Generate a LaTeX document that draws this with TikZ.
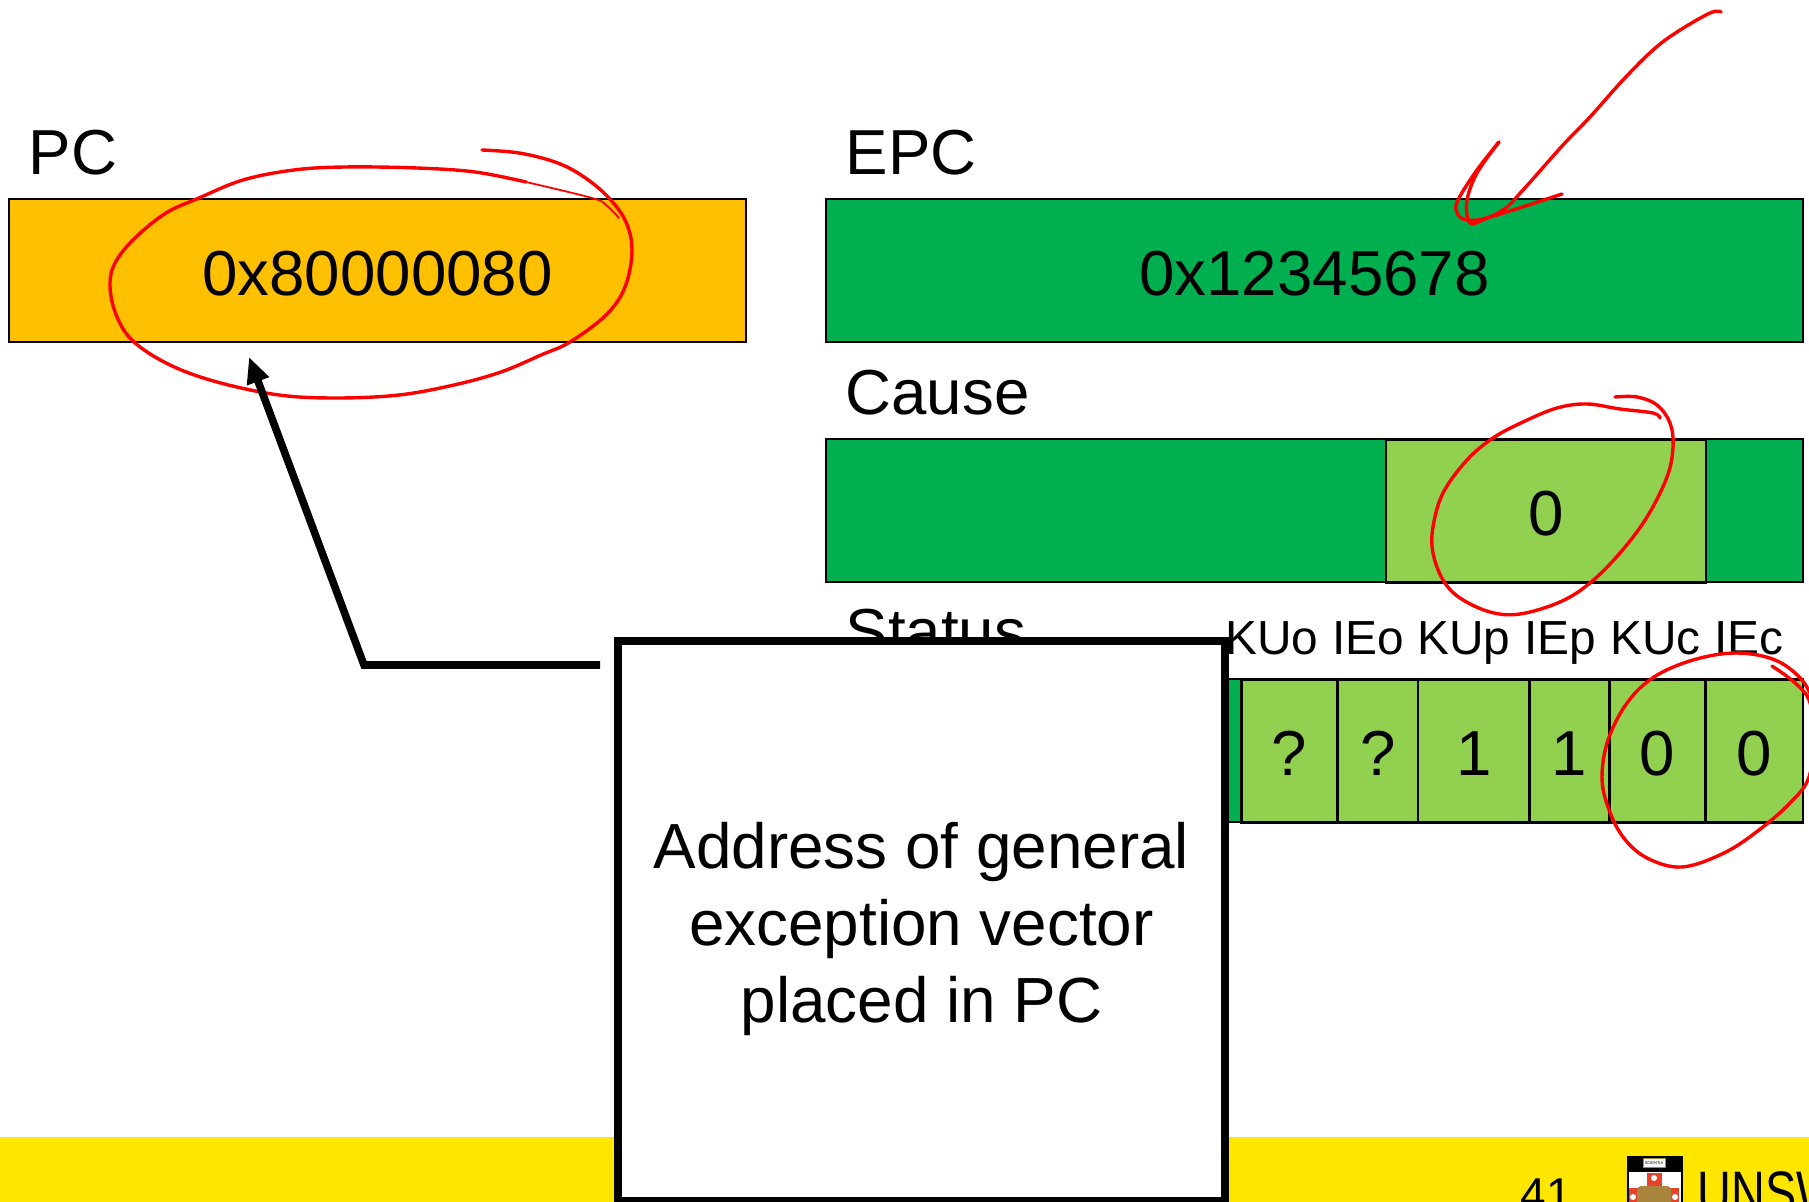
\documentclass[tikz,border=0pt]{standalone}
\usepackage{fontspec}
\setmainfont{Liberation Sans}
\usetikzlibrary{arrows.meta,positioning}
\definecolor{regorange}{HTML}{FFC000}
\definecolor{reggreen}{HTML}{00B050}
\definecolor{fieldgreen}{HTML}{92D050}
\definecolor{bandyellow}{HTML}{FFE600}
\definecolor{crestred}{HTML}{E8432A}
\definecolor{crestgold}{HTML}{A8843C}

\begin{document}
\begin{tikzpicture}[x=0.5pt,y=-0.5pt,node distance=120pt,semithick]
  \tikzstyle{reg}=[draw=black,line width=1.4pt,fill=reggreen,minimum height=71.5pt,
                   inner sep=0pt,text height=24.6pt,text depth=0pt,font=\fontsize{31.8}{38}\selectfont]
  \tikzstyle{title}=[anchor=base west,inner sep=0pt,font=\fontsize{31.8}{38}\selectfont]
  \tikzstyle{field}=[reg,fill=fieldgreen,anchor=center]
  \tikzstyle{fieldname}=[anchor=base,inner sep=0pt,font=\fontsize{23.9}{28}\selectfont]
  \tikzstyle{scribble}=[draw=red,line width=1.7pt,line cap=round,line join=round]
  \tikzstyle{callout}=[draw=black,line width=4.4pt,fill=white,minimum width=303.5pt,
                       minimum height=280pt,inner sep=0pt]
  \tikzstyle{callouttext}=[align=center,inner sep=0pt,font=\fontsize{31.9}{38.4}\selectfont]
  \tikzstyle{dot}=[fill=white,circle,minimum size=3pt,inner sep=0pt]

  \useasboundingbox (0,0) rectangle (1809,1202);
  \clip (0,0) rectangle (1809,1202);

  % footer
  \node[fill=bandyellow,minimum width=904.5pt,minimum height=32.5pt,inner sep=0pt] (Band) at (904.5,1169.5) {};
  \node[anchor=base,inner sep=0pt,font=\fontsize{23}{27}\selectfont] (Page) at (1546,1210) {41};
  \node[draw=black,fill=white,line width=1pt,anchor=north west,minimum width=27pt,minimum height=40pt,inner sep=0pt] (Crest) at (1627,1156) {};
  \node[fill=black,anchor=north west,minimum width=27pt,minimum height=7.5pt,inner sep=0pt] (CrestTop) at (1627,1156) {};
  \node[fill=white,draw=crestgold,line width=0.4pt,minimum width=11pt,minimum height=4.5pt,inner sep=0pt,font=\fontsize{2}{2}\selectfont] (Book) at (1654,1163) {SCIENTIA};
  \node[fill=crestred,anchor=north,minimum width=7.5pt,minimum height=20pt,inner sep=0pt] (CrestBar) at (1654,1172) {};
  \node[fill=crestred,anchor=north,minimum width=25pt,minimum height=10pt,inner sep=0pt] (CrestArm) at (1654,1187) {};
  \node[fill=crestgold,rounded corners=2pt,minimum width=17pt,minimum height=10pt,inner sep=0pt] (Lion) at (1654,1196) {};
  \node[dot] (DotTop) at (1654,1178) {};
  \node[dot] (DotLeft) at (1633,1197) {};
  \node[dot] (DotRight) at (1675,1197) {};
  \node[anchor=base west,inner sep=0pt,xscale=0.78,font=\fontsize{30}{36}\selectfont] (Unsw) at (1697,1213) {UNSW};

  % registers
  \node[reg,fill=regorange,minimum width=368.5pt] (PC) at (377.5,270.5) {0x80000080};
  \node[reg,minimum width=488.5pt] (EPC) at (1314.5,270.5) {0x12345678};
  \node[reg,minimum width=488.5pt] (Cause) [below of=EPC] {};
  \node[reg,minimum width=488.5pt] (Status) [below of=Cause] {};
  \node[field,minimum width=160pt] (CauseCode) at (1546,511) {0};

  \node[title] (PClabel) at (28,175) {PC};
  \node[title] (EPClabel) at (845,175) {EPC};
  \node[title] (Causelabel) at (845,415) {Cause};
  \node[title] (Statuslabel) at (845,654) {Status};

  % status bits
  \foreach \name/\val/\xa/\wid/\lab/\xb in {KUo/?/1289.5/48/KUo/1272,IEo/?/1378/40/IEo/1368.5,
      KUp/1/1474/56/KUp/1464,IEp/1/1569.5/40/IEp/1560.5,KUc/0/1657.5/48/KUc/1655.5,IEc/0/1754.5/48.5/IEc/1749} {
    \node[field,minimum width=\wid pt] (\name) at (\xa,751) {\val};
    \node[fieldname] (\name label) at (\xb,655) {\lab};
  }

  % pen marks
  \draw[scribble] plot[smooth,tension=0.6] coordinates {(482,150) (519,153) (555,162) (581,175) (606,195)
      (625,220) (632,250) (625,287) (606,315) (570,342) (541,355) (501,372) (454,385) (399,395) (337,398)
      (279,395) (217,382) (170,365) (134,342) (117,317) (110,287) (115,263) (135,238) (166,213) (199,198)
      (243,180) (294,170) (345,167) (417,168) (475,172) (526,182)};
  \draw[scribble,line width=0.9pt] plot[smooth,tension=0.6] coordinates {(526,182) (592,198) (606,205) (619,218)};
  \draw[scribble] plot[smooth,tension=0.6] coordinates {(1721,12) (1710,13) (1677,32) (1653,50) (1623,80)
      (1590,117) (1563,145) (1523,190) (1503,210) (1473,224)};
  \draw[scribble] plot[smooth,tension=0.6] coordinates {(1499,142) (1477,170) (1458,200) (1457,213) (1467,220)
      (1490,217) (1562,194)};
  \draw[scribble] plot[smooth,tension=0.6] coordinates {(1499,142) (1477,173) (1467,200) (1468,220) (1473,224)};
  \draw[scribble] plot[smooth,tension=0.6] coordinates {(1615,397) (1637,397) (1657,405) (1670,423) (1673,447)
      (1667,477) (1647,517) (1620,553) (1590,583) (1560,602) (1520,614) (1490,612) (1460,598) (1443,580)
      (1433,553) (1433,527) (1443,493) (1467,460) (1493,438) (1523,422) (1557,408) (1587,404) (1620,409)
      (1653,413) (1660,418)};
  \draw[scribble] plot[smooth,tension=0.6] coordinates {(1772,666) (1794,682) (1809,700) (1814,733) (1809,777)
      (1790,803) (1759,830) (1724,853) (1682,867) (1647,858) (1623,837) (1608,807) (1602,777) (1608,740)
      (1627,703) (1654,677) (1693,660) (1736,653) (1775,660) (1802,680) (1815,705)};

  % callout
  \node[callout] (Callout) at (921.5,921) {};
  \node[callouttext] (CalloutText) at ([yshift=-4pt]Callout.center) {Address of general\\exception vector\\placed in PC};
  \coordinate (Bend) at (364,665);
  \coordinate (Tip) at (249,357);
  \draw[black,line width=3.8pt,-{Triangle[length=13pt,width=11pt]},shorten <=6.8pt]
    (Callout.west |- Bend) -- (Bend) -- (Tip);
\end{tikzpicture}
\end{document}
